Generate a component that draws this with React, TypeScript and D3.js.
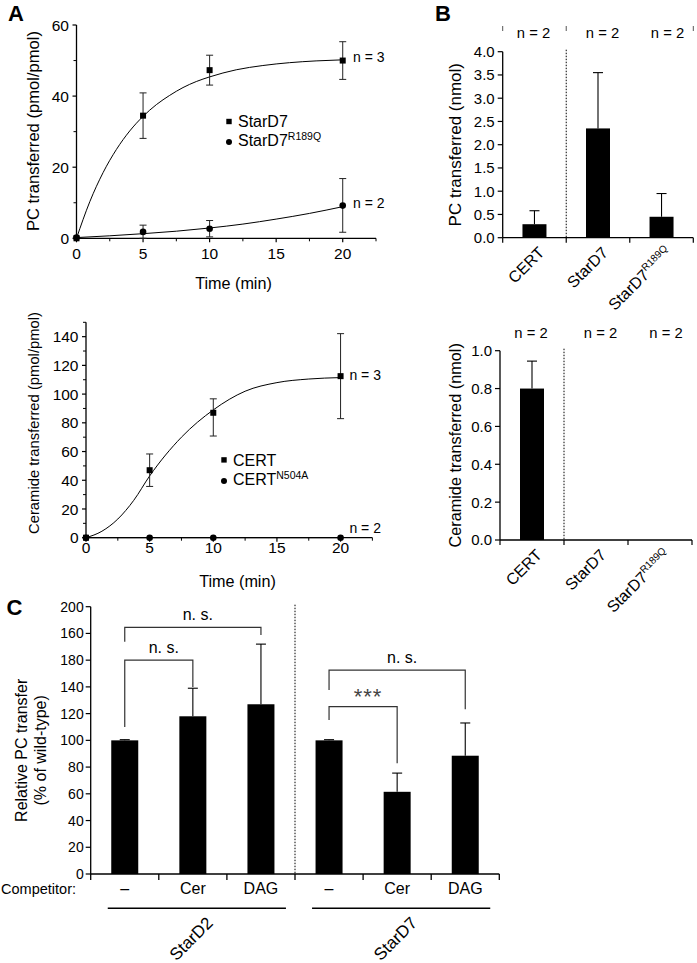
import React from "react";
import * as d3 from "d3";

const FONT = "'Liberation Sans', Arial, Helvetica, sans-serif";

// ---------- Panel A (top): PC transfer kinetics ----------
const timePoints = [0, 5, 10, 20];
const stard7Mean = [0, 34.5, 47.3, 50.0];
const stard7ErrLow = [0, 6.4, 4.2, 5.3];
const stard7ErrHigh = [0, 6.4, 4.2, 5.3];
const stard7MutMean = [0.2, 1.8, 2.7, 9.2];
const stard7MutErrLow = [0, 1.8, 2.3, 7.5];
const stard7MutErrHigh = [0, 1.9, 2.3, 7.6];
const stard7FitT = [0, 1, 2, 3, 4, 5, 6, 7, 8, 9, 10, 12, 14, 16, 18, 20];
const stard7FitY = [0, 10.3, 18.5, 25.0, 30.2, 34.3, 37.6, 40.2, 42.4, 44.1, 45.4, 47.4, 48.6, 49.4, 49.9, 50.2];
const stard7MutFitT = [0, 2.5, 5, 7.5, 10, 12.5, 15, 17.5, 20];
const stard7MutFitY = [0.2, 0.7, 1.3, 2.0, 2.9, 4.0, 5.4, 7.0, 8.9];
const aTopYTicks = [0, 20, 40, 60];
const aTopYMinor = [10, 30, 50];
const timeTicks = [0, 5, 10, 15, 20];
const timeMinor = [2.5, 7.5, 12.5, 17.5, 22.5];

// ---------- Panel A (bottom): ceramide transfer kinetics ----------
const certMean = [0, 47.0, 87.0, 112.5];
const certErrLow = [0, 11.3, 16.2, 29.6];
const certErrHigh = [0, 11.3, 9.7, 29.6];
const certMutMean = [0, 0, 0, 0];
const certFitT = [0, 1.25, 2.5, 3.75, 5, 7.5, 10, 12.5, 15, 17.5, 20];
const certFitY = [0, 4.5, 13.0, 26.0, 43.0, 70.0, 89.0, 102.0, 108.0, 110.5, 111.5];
const certMutFitT = [0, 20];
const certMutFitY = [0, 0];
const aBotYTicks = [0, 20, 40, 60, 80, 100, 120, 140];
const aBotYMinor = [10, 30, 50, 70, 90, 110, 130, 150];

// ---------- Panel B ----------
const bCategories = ["CERT", "StarD7", "StarD7"];
const bSuperscripts = ["", "", "R189Q"];
const bN = ["n = 2", "n = 2", "n = 2"];
const pcNmolMean = [0.29, 2.35, 0.45];
const pcNmolErr = [0.29, 1.2, 0.5];
const cerNmolMean = [0.8, 0, 0];
const cerNmolErr = [0.145, 0, 0];
const bTopTicks = [0, 0.5, 1, 1.5, 2, 2.5, 3, 3.5, 4];
const bBotTicks = [0, 0.2, 0.4, 0.6, 0.8, 1.0];

// ---------- Panel C ----------
const cCompetitors = ["–", "Cer", "DAG", "–", "Cer", "DAG"];
const cGroups = ["StarD2", "StarD7"];
const cMean = [100, 118, 127, 100, 61.5, 88.5];
const cErr = [0.5, 21, 45, 0.5, 14, 24.5];
const cTickValues = [0, 20, 40, 60, 80, 100, 120, 140, 160, 180, 200];
const cTickLabels = ["0", "20", "40", "60", "80", "100", "120", "140", "180", "160", "200"];
const bracketFrom = [0, 0, 3, 3];
const bracketTo = [1, 2, 4, 5];
const bracketLevel = [160, 184.6, 125.2, 152.6];
const bracketLeftEnd = [110, 173.8, 115.2, 137.7];
const bracketRightEnd = [140, 178.8, 82.8, 123.2];
const bracketLabel = ["n. s.", "n. s.", "***", "n. s."];

type Pt = [number, number];

function ErrBar(props: { x: number; yLow: number; yHigh: number }) {
  const { x, yLow, yHigh } = props;
  return (
    <g stroke="#222" strokeWidth={1}>
      <line x1={x} x2={x} y1={yLow} y2={yHigh} />
      <line x1={x - 3.5} x2={x + 3.5} y1={yHigh} y2={yHigh} />
      <line x1={x - 3.5} x2={x + 3.5} y1={yLow} y2={yLow} />
    </g>
  );
}

function KineticPanel(props: {
  x: d3.ScaleLinear<number, number>;
  y: d3.ScaleLinear<number, number>;
  yTicks: number[];
  yMinor: number[];
  s1Mean: number[];
  s1ErrLow: number[];
  s1ErrHigh: number[];
  s2Mean: number[];
  s2ErrLow: number[] | null;
  s2ErrHigh: number[] | null;
  fit1T: number[];
  fit1Y: number[];
  fit2T: number[];
  fit2Y: number[];
  ylabel: string;
  ylabelX: number;
  ylabelY: number;
  ylabelSize: number;
  xlabelX: number;
  xlabelY: number;
  tickLabelDy: number;
  legend1: string;
  legend2: string;
  legend2Sup: string;
  legendX: number;
  legendY1: number;
  legendY2: number;
  n1: string;
  n2: string;
  n1Y: number;
  n2Y: number;
}) {
  const { x, y } = props;
  const [x0, x1] = x.range();
  const [y0, y1] = y.range();
  const line = d3
    .line<Pt>()
    .x((d) => x(d[0]))
    .y((d) => y(d[1]))
    .curve(d3.curveMonotoneX);
  const fit1: Pt[] = props.fit1T.map((t, i) => [t, props.fit1Y[i]]);
  const fit2: Pt[] = props.fit2T.map((t, i) => [t, props.fit2Y[i]]);
  const TS = 15.5;
  return (
    <g>
      <line x1={x0} x2={x0} y1={y0} y2={y1} stroke="#000" strokeWidth={1.3} />
      <line x1={x0} x2={x1} y1={y0} y2={y0} stroke="#000" strokeWidth={1.3} />
      {props.yTicks.map((t) => (
        <g key={"yt" + t}>
          <line x1={x0 - 4} x2={x0} y1={y(t)} y2={y(t)} stroke="#000" strokeWidth={1.2} />
          <text x={x0 - 7.5} y={y(t)} dy="0.36em" textAnchor="end" fontSize={TS} fontFamily={FONT}>
            {t}
          </text>
        </g>
      ))}
      {props.yMinor.map((t) => (
        <line key={"ym" + t} x1={x0 - 3} x2={x0} y1={y(t)} y2={y(t)} stroke="#000" strokeWidth={1} />
      ))}
      {timeTicks.map((t) => (
        <g key={"xt" + t}>
          <line x1={x(t)} x2={x(t)} y1={y0} y2={y0 + 4} stroke="#000" strokeWidth={1.2} />
          <text x={x(t)} y={y0 + props.tickLabelDy} textAnchor="middle" fontSize={TS} fontFamily={FONT}>
            {t}
          </text>
        </g>
      ))}
      {timeMinor.map((t) => (
        <line key={"xm" + t} x1={x(t)} x2={x(t)} y1={y0} y2={y0 + 3} stroke="#000" strokeWidth={1} />
      ))}
      <text
        transform={`translate(${props.ylabelX},${props.ylabelY}) rotate(-90)`}
        textAnchor="middle"
        fontSize={props.ylabelSize}
        fontFamily={FONT}
      >
        {props.ylabel}
      </text>
      <text x={props.xlabelX} y={props.xlabelY} textAnchor="middle" fontSize={16.2} fontFamily={FONT}>
        Time (min)
      </text>
      <path d={line(fit1) || ""} fill="none" stroke="#000" strokeWidth={1} />
      <path d={line(fit2) || ""} fill="none" stroke="#000" strokeWidth={1} />
      {timePoints.map((t, i) =>
        props.s1ErrHigh[i] > 0 ? (
          <ErrBar
            key={"e1" + i}
            x={x(t)}
            yLow={y(props.s1Mean[i] - props.s1ErrLow[i])}
            yHigh={y(props.s1Mean[i] + props.s1ErrHigh[i])}
          />
        ) : null
      )}
      {props.s2ErrHigh &&
        props.s2ErrLow &&
        timePoints.map((t, i) =>
          props.s2ErrHigh![i] > 0 ? (
            <ErrBar
              key={"e2" + i}
              x={x(t)}
              yLow={y(props.s2Mean[i] - props.s2ErrLow![i])}
              yHigh={y(props.s2Mean[i] + props.s2ErrHigh![i])}
            />
          ) : null
        )}
      {timePoints.map((t, i) => (
        <rect key={"m1" + i} x={x(t) - 3} y={y(props.s1Mean[i]) - 3} width={6} height={6} fill="#000" />
      ))}
      {timePoints.map((t, i) => (
        <circle key={"m2" + i} cx={x(t)} cy={y(props.s2Mean[i])} r={3.3} fill="#000" />
      ))}
      <rect x={props.legendX - 2.7} y={props.legendY1 - 8.5} width={5.4} height={5.4} fill="#000" />
      <text x={props.legendX + 9} y={props.legendY1} fontSize={16} fontFamily={FONT}>
        {props.legend1}
      </text>
      <circle cx={props.legendX} cy={props.legendY2 - 4} r={3} fill="#000" />
      <text x={props.legendX + 9} y={props.legendY2} fontSize={16} fontFamily={FONT}>
        {props.legend2}
        <tspan fontSize={10.5} dy={-6.5}>
          {props.legend2Sup}
        </tspan>
      </text>
      <text x={x1 - 23} y={props.n1Y} fontSize={14} fontFamily={FONT}>
        {props.n1}
      </text>
      <text x={x1 - 23} y={props.n2Y} fontSize={14} fontFamily={FONT}>
        {props.n2}
      </text>
    </g>
  );
}

function BarPanelB(props: {
  x0: number;
  x1: number;
  y: d3.ScaleLinear<number, number>;
  ticks: number[];
  mean: number[];
  err: number[];
  ylabel: string;
  ylabelSize: number;
  nY: number;
  topMarks: boolean;
}) {
  const { y } = props;
  const [yb, yt] = y.range();
  const x = d3.scaleBand<number>().domain([0, 1, 2]).range([props.x0, props.x1]).paddingInner(0).paddingOuter(0);
  const bw = x.bandwidth();
  const barW = 24;
  const bounds = [0, 1, 2, 3].map((i) => props.x0 + i * bw);
  const nShift = [-1, 4.5, 6];
  return (
    <g>
      <line x1={props.x0} x2={props.x0} y1={yb} y2={yt} stroke="#000" strokeWidth={1.3} />
      <line x1={props.x0} x2={props.x1} y1={yb} y2={yb} stroke="#000" strokeWidth={1.3} />
      {props.ticks.map((t) => (
        <g key={"t" + t}>
          <line x1={props.x0 - 5} x2={props.x0} y1={y(t)} y2={y(t)} stroke="#000" strokeWidth={1.2} />
          <text x={props.x0 - 8} y={y(t)} dy="0.36em" textAnchor="end" fontSize={15} fontFamily={FONT}>
            {t.toFixed(1)}
          </text>
        </g>
      ))}
      {bounds.map((b, i) => (
        <line key={"b" + i} x1={b} x2={b} y1={yb} y2={yb + 5} stroke="#000" strokeWidth={1.2} />
      ))}
      {props.topMarks &&
        [0, 1, 3].map((i) => (
          <line key={"tm" + i} x1={bounds[i]} x2={bounds[i]} y1={26} y2={31} stroke="#555" strokeWidth={1} />
        ))}
      <line x1={bounds[1]} x2={bounds[1]} y1={yt - 2} y2={yb} stroke="#000" strokeWidth={1} strokeDasharray="1.5,1.5" />
      {props.mean.map((m, i) => {
        const cx = (x(i) as number) + bw / 2;
        return (
          <g key={"bar" + i}>
            {props.err[i] > 0 && (
              <g stroke="#000" strokeWidth={1.1}>
                <line x1={cx} x2={cx} y1={y(m)} y2={y(m + props.err[i])} />
                <line x1={cx - 5} x2={cx + 5} y1={y(m + props.err[i])} y2={y(m + props.err[i])} />
              </g>
            )}
            {m > 0 && <rect x={cx - barW / 2} y={y(m)} width={barW} height={yb - y(m)} fill="#000" />}
            <text x={cx + nShift[i]} y={props.nY} textAnchor="middle" fontSize={14.8} fontFamily={FONT}>
              {bN[i]}
            </text>
            <text
              transform={`translate(${cx + 11},${yb + 16}) rotate(-45)`}
              textAnchor="end"
              fontSize={16}
              fontFamily={FONT}
            >
              {bCategories[i]}
              {bSuperscripts[i] && (
                <tspan fontSize={10} dy={-6.5}>
                  {bSuperscripts[i]}
                </tspan>
              )}
            </text>
          </g>
        );
      })}
      <text
        transform={`translate(461,${(yb + yt) / 2}) rotate(-90)`}
        textAnchor="middle"
        fontSize={props.ylabelSize}
        fontFamily={FONT}
      >
        {props.ylabel}
      </text>
    </g>
  );
}

function PanelC() {
  const x0 = 90.7;
  const x1 = 499.3;
  const y = d3.scaleLinear().domain([0, 200]).range([874, 606.7]);
  const [yb, yt] = y.range();
  const x = d3.scaleBand<number>().domain(d3.range(cMean.length)).range([x0, x1]);
  const bw = x.bandwidth();
  const barW = 27;
  const cx = (i: number) => (x(i) as number) + bw / 2;
  return (
    <g>
      <line x1={x0} x2={x0} y1={yb} y2={yt} stroke="#000" strokeWidth={1.3} />
      <line x1={x0} x2={x1} y1={yb} y2={yb} stroke="#000" strokeWidth={1.3} />
      {cTickValues.map((t, i) => (
        <g key={"t" + t}>
          <line x1={x0 - 5} x2={x0} y1={y(t)} y2={y(t)} stroke="#000" strokeWidth={1.2} />
          <text x={x0 - 7} y={y(t)} dy="0.36em" textAnchor="end" fontSize={14} fontFamily={FONT}>
            {cTickLabels[i]}
          </text>
        </g>
      ))}
      {d3.range(cMean.length + 1).map((i) => (
        <line key={"xb" + i} x1={x0 + i * bw} x2={x0 + i * bw} y1={yb} y2={yb + 6} stroke="#000" strokeWidth={1.3} />
      ))}
      <line x1={x0 + 3 * bw} x2={x0 + 3 * bw} y1={yt - 2} y2={yb} stroke="#000" strokeWidth={1} strokeDasharray="1.5,1.5" />
      {cMean.map((m, i) => (
        <g key={"bar" + i}>
          <g stroke="#000" strokeWidth={1.1}>
            <line x1={cx(i)} x2={cx(i)} y1={y(m)} y2={y(m + cErr[i])} />
            <line x1={cx(i) - 5} x2={cx(i) + 5} y1={y(m + cErr[i])} y2={y(m + cErr[i])} />
          </g>
          <rect x={cx(i) - barW / 2} y={y(m)} width={barW} height={yb - y(m)} fill="#000" />
          <text x={cx(i)} y={894} textAnchor="middle" fontSize={16} fontFamily={FONT}>
            {cCompetitors[i]}
          </text>
        </g>
      ))}
      {bracketFrom.map((f, k) => {
        const a = cx(f);
        const b = cx(bracketTo[k]);
        const lv = y(bracketLevel[k]);
        const stars = bracketLabel[k] === "***";
        return (
          <g key={"br" + k}>
            <path
              d={`M${a},${y(bracketLeftEnd[k])}V${lv}H${b}V${y(bracketRightEnd[k])}`}
              fill="none"
              stroke="#333"
              strokeWidth={1.2}
            />
            <text
              x={(a + b) / 2 + 5}
              y={stars ? lv - 3 : lv - 7}
              textAnchor="middle"
              fontSize={stars ? 22 : 16}
              letterSpacing={stars ? 1 : 0}
              fill={stars ? "#444" : "#000"}
              fontFamily={FONT}
            >
              {bracketLabel[k]}
            </text>
          </g>
        );
      })}
      <text x={76} y={894} textAnchor="end" fontSize={14.5} fontFamily={FONT}>
        Competitor:
      </text>
      {cGroups.map((g, gi) => {
        const l = cx(gi * 3) - 17;
        const r = cx(gi * 3 + 2) + 25;
        const mid = (cx(gi * 3) + cx(gi * 3 + 2)) / 2;
        return (
          <g key={"g" + g}>
            <line x1={l} x2={r} y1={908.3} y2={908.3} stroke="#000" strokeWidth={1.4} />
            <text
              transform={`translate(${mid + 21},${924}) rotate(-45)`}
              textAnchor="end"
              fontSize={17}
              fontFamily={FONT}
            >
              {g}
            </text>
          </g>
        );
      })}
      <text
        transform={`translate(26.5,${(yb + yt) / 2 + 10}) rotate(-90)`}
        textAnchor="middle"
        fontSize={16}
        fontFamily={FONT}
      >
        Relative PC transfer
      </text>
      <text
        transform={`translate(46,${(yb + yt) / 2 + 10}) rotate(-90)`}
        textAnchor="middle"
        fontSize={16}
        fontFamily={FONT}
      >
        (% of wild-type)
      </text>
    </g>
  );
}

export default function App() {
  const xA1 = d3.scaleLinear().domain([0, 22.5]).range([76.5, 376]);
  const yA1 = d3.scaleLinear().domain([0, 60]).range([238.3, 25]);
  const xA2 = d3.scaleLinear().domain([0, 22.5]).range([86, 372.4]);
  const yA2 = d3.scaleLinear().domain([0, 150]).range([537.7, 322.3]);
  const yB1 = d3.scaleLinear().domain([0, 4]).range([237.7, 51.7]);
  const yB2 = d3.scaleLinear().domain([0, 1]).range([540, 350.7]);

  return (
    <svg
      width={697}
      height={963}
      viewBox="0 0 697 963"
      style={{ position: "absolute", left: 0, top: 0, background: "#fff" }}
    >
      <rect width={697} height={963} fill="#fff" />
      <text x={8} y={21} fontSize={22} fontWeight="bold" fontFamily={FONT}>A</text>
      <text x={435} y={21} fontSize={22} fontWeight="bold" fontFamily={FONT}>B</text>
      <text x={6.5} y={615} fontSize={22} fontWeight="bold" fontFamily={FONT}>C</text>

      <KineticPanel
        x={xA1}
        y={yA1}
        yTicks={aTopYTicks}
        yMinor={aTopYMinor}
        s1Mean={stard7Mean}
        s1ErrLow={stard7ErrLow}
        s1ErrHigh={stard7ErrHigh}
        s2Mean={stard7MutMean}
        s2ErrLow={stard7MutErrLow}
        s2ErrHigh={stard7MutErrHigh}
        fit1T={stard7FitT}
        fit1Y={stard7FitY}
        fit2T={stard7MutFitT}
        fit2Y={stard7MutFitY}
        ylabel="PC transferred (pmol/pmol)"
        ylabelX={38.5}
        ylabelY={131}
        ylabelSize={16.6}
        xlabelX={233.5}
        xlabelY={289}
        tickLabelDy={20.5}
        legend1="StarD7"
        legend2="StarD7"
        legend2Sup="R189Q"
        legendX={229}
        legendY1={127.3}
        legendY2={146}
        n1="n = 3"
        n2="n = 2"
        n1Y={61.7}
        n2Y={208.3}
      />
      <KineticPanel
        x={xA2}
        y={yA2}
        yTicks={aBotYTicks}
        yMinor={aBotYMinor}
        s1Mean={certMean}
        s1ErrLow={certErrLow}
        s1ErrHigh={certErrHigh}
        s2Mean={certMutMean}
        s2ErrLow={null}
        s2ErrHigh={null}
        fit1T={certFitT}
        fit1Y={certFitY}
        fit2T={certMutFitT}
        fit2Y={certMutFitY}
        ylabel="Ceramide transferred (pmol/pmol)"
        ylabelX={39}
        ylabelY={423}
        ylabelSize={14.8}
        xlabelX={237.5}
        xlabelY={587}
        tickLabelDy={15.5}
        legend1="CERT"
        legend2="CERT"
        legend2Sup="N504A"
        legendX={224}
        legendY1={465.7}
        legendY2={485}
        n1="n = 3"
        n2="n = 2"
        n1Y={380}
        n2Y={533.3}
      />

      <BarPanelB
        x0={502.7}
        x1={693.3}
        y={yB1}
        ticks={bTopTicks}
        mean={pcNmolMean}
        err={pcNmolErr}
        ylabel="PC transferred (nmol)"
        ylabelSize={17}
        nY={38.3}
        topMarks={true}
      />
      <BarPanelB
        x0={500}
        x1={692}
        y={yB2}
        ticks={bBotTicks}
        mean={cerNmolMean}
        err={cerNmolErr}
        ylabel="Ceramide transferred (nmol)"
        ylabelSize={16.3}
        nY={338}
        topMarks={false}
      />

      <PanelC />
    </svg>
  );
}
